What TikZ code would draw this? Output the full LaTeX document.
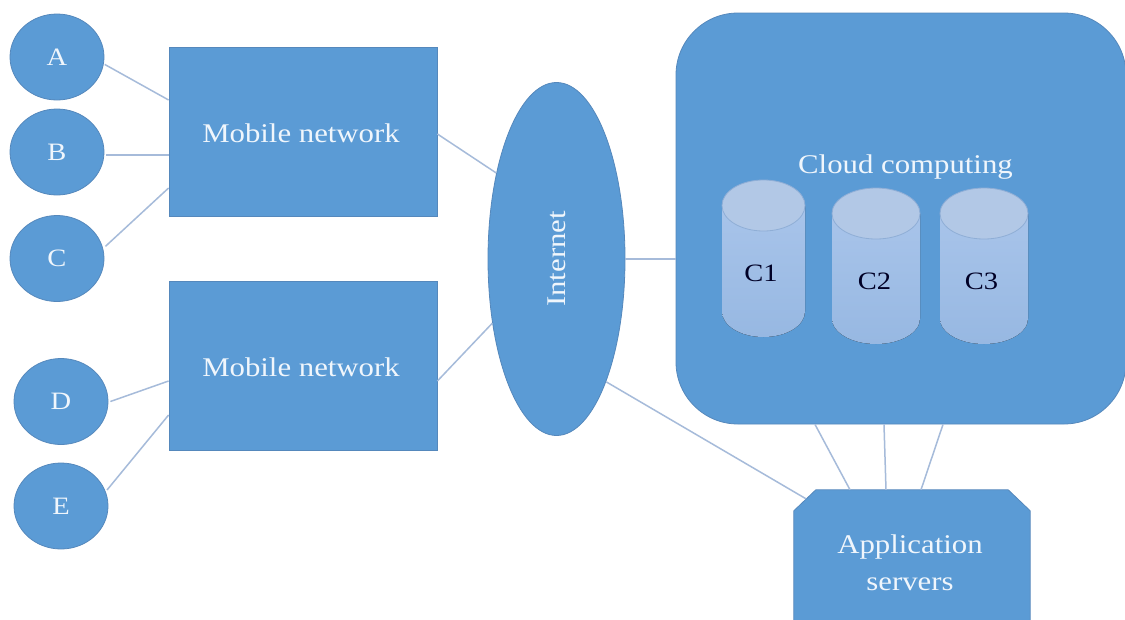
\documentclass[tikz,border=0pt]{standalone}
\usepackage{fontspec}
\setmainfont{Liberation Serif}
\newfontfamily\widefont[FakeStretch=1.14]{Liberation Serif}
\usetikzlibrary{shapes.geometric}
\definecolor{fillb}{HTML}{5B9BD5}
\definecolor{edgeb}{HTML}{5588BC}
\definecolor{lineb}{HTML}{A6BBDA}
\definecolor{cylu}{HTML}{A8C4EA}
\definecolor{cyld}{HTML}{97B8E2}
\definecolor{cylt}{HTML}{B2C8E6}
\definecolor{cyle}{HTML}{8FAED6}
\definecolor{txtb}{HTML}{F0F6FC}
\tikzset{x=1pt,y=-1pt,
 conn/.style={draw=lineb,line width=1.5pt},
 shapeb/.style={fill=fillb,draw=edgeb,line width=.8pt,inner sep=0pt},
 circ/.style={shapeb,ellipse,text=txtb,font=\widefont\fontsize{25}{27}\selectfont,minimum width=94pt,minimum height=86pt},
 lab/.style={text=txtb,font=\widefont\fontsize{27}{36}\selectfont},
 netbox/.style={shapeb,minimum width=268pt,minimum height=169pt,label={[lab,xshift=-2pt,yshift=-1.5pt]center:Mobile network}},
 cyllab/.style={font=\widefont\fontsize{25}{30}\selectfont,text=black!85!blue}
}
\begin{document}
\begin{tikzpicture}
\useasboundingbox (0,0) rectangle (1125,619);
\fill[white] (0,0) rectangle (1125,619);
\node[circ] (A) at (57,57) {A};
\node[circ] (B) at (57,152) {B};
\node[circ] (C) at (57,258.5) {C};
\node[circ] (D) at (61,401.5) {D};
\node[circ] (E) at (61,506) {E};
\node[netbox] (M1) at (303,131.5) {};
\node[netbox] (M2) at (303,365.5) {};
\node[shapeb,ellipse,minimum width=137pt,minimum height=353pt,text=txtb,font=\widefont\fontsize{27}{36}\selectfont] (I) at (556.5,259) {\rotatebox{90}{Internet}};
\node[shapeb,rounded corners=62pt,minimum width=450pt,minimum height=411pt] (CC) at (901,218.5) {};
\node[lab] (CCL) at (905.5,167) {Cloud computing};
\node[inner sep=0pt,minimum width=236pt,minimum height=140pt] (AS) at (912,560) {};
\fill[fillb,draw=edgeb,line width=.8pt] (AS.south west) -- ([yshift=-21pt]AS.north west) -- ([xshift=22pt]AS.north west) -- ([xshift=-22pt]AS.north east) -- ([yshift=-21pt]AS.north east) -- (AS.south east) -- cycle;
\node[lab,align=center,font=\widefont\fontsize{27}{37}\selectfont] (ASL) at (910,563) {Application\\servers};
\draw[conn] ([xshift=1pt]A.-9) -- ([yshift=31.5pt]M1.west);
\draw[conn] ([xshift=2pt,yshift=-3pt]B.east) -- ([yshift=-23.5pt]M1.west);
\draw[conn] ([xshift=3pt]C.15) -- ([yshift=-56.5pt]M1.west);
\draw[conn] ([xshift=2pt]D.east) -- ([yshift=-15.5pt]M2.west);
\draw[conn] ([xshift=2pt]E.20) -- ([yshift=-49.5pt]M2.west);
\draw[conn] ([yshift=-2.5pt]M1.east) -- (I.125);
\draw[conn] ([yshift=-15.5pt]M2.east) -- (I.225);
\draw[conn] (I.east) -- ([yshift=-40.5pt]CC.west);
\draw[conn] (I.-68) -- ([xshift=-106pt,yshift=-9pt]AS.north);
\draw[conn] ([xshift=-86pt]CC.south) -- ([xshift=-62pt]AS.north);
\draw[conn] ([xshift=-17pt]CC.south) -- ([xshift=-26pt]AS.north);
\draw[conn] ([xshift=42pt]CC.south) -- ([xshift=9pt]AS.north);
\foreach \cx/\ct/\cb/\rx/\ry/\lbl/\lx/\ly in {763.5/205.5/311.5/41.5/25.5/C1/761/273,876/213.5/318.5/44/25.5/C2/874.5/281,984/213.5/318.5/44/25.5/C3/981.5/281}{
 \fill[top color=cylu,bottom color=cyld] (\cx-\rx,\ct) -- (\cx-\rx,\cb) arc[start angle=180,end angle=0,x radius=\rx,y radius=\ry] -- (\cx+\rx,\ct) -- cycle;
 \fill[cylt,draw=cyle,line width=.8pt] (\cx,\ct) ellipse[x radius=\rx,y radius=\ry];
 \node[cyllab] (\lbl) at (\lx,\ly) {\lbl};
}
\end{tikzpicture}
\end{document}
